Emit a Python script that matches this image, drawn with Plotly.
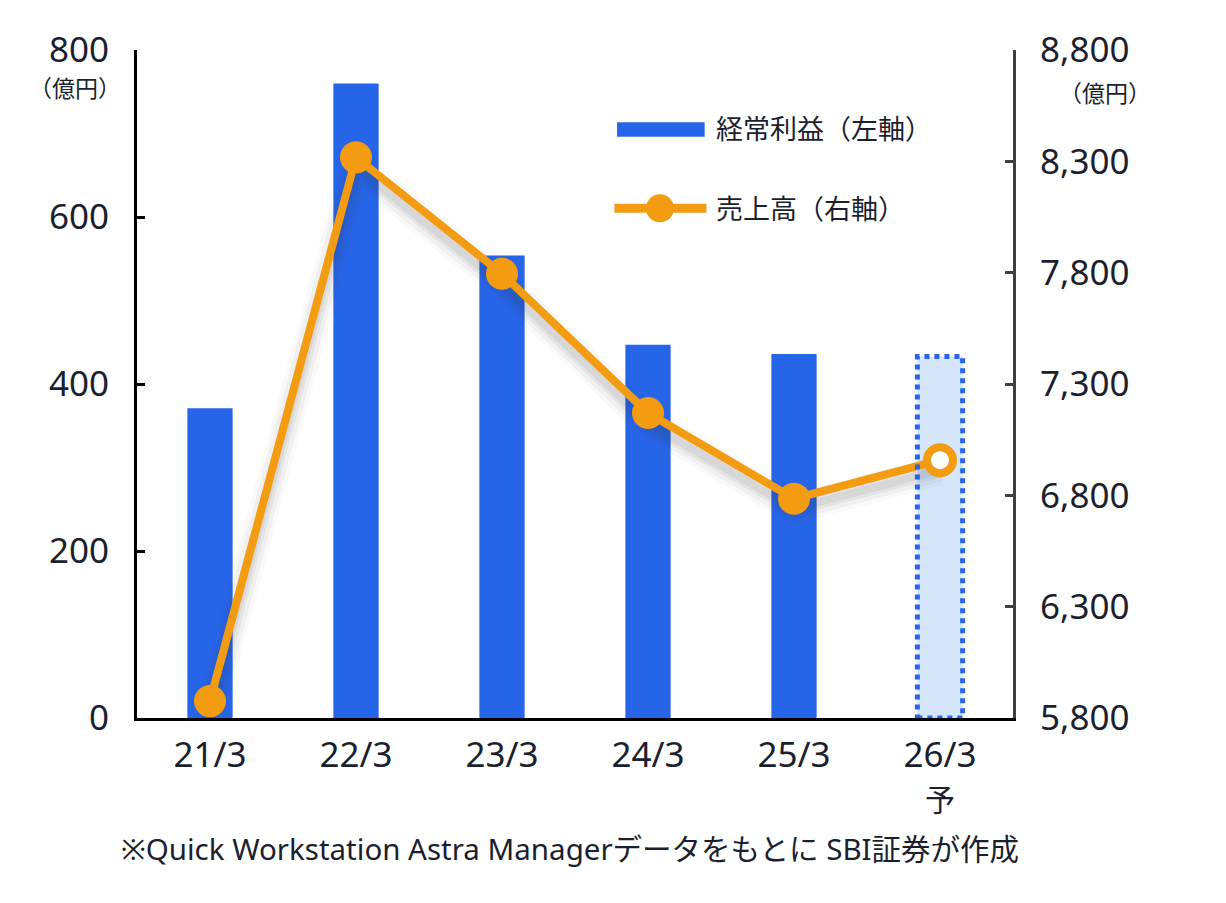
import plotly.graph_objects as go

# fiscal years (last one is the company forecast)
years = ["21/3", "22/3", "23/3", "24/3", "25/3", "26/3"]
forecast_mark = "予"
profit = [371, 760, 554, 447, 436, 433]          # 経常利益 (億円), left axis
sales = [5876, 8318, 7795, 7170, 6785, 6958]     # 売上高 (億円), right axis

left_ticks = [0, 200, 400, 600, 800]
right_ticks = [5800, 6300, 6800, 7300, 7800, 8300, 8800]

BLUE = "#2765E8"
LIGHT_BLUE = "#D5E6FA"
ORANGE = "#F39C12"
TEXT = "#1B1F2E"
FONT = "Noto Sans, Noto Sans CJK JP"

fig = go.Figure()

# actual results bars
fig.add_trace(go.Bar(
    x=years[:-1], y=profit[:-1],
    marker=dict(color=BLUE, line=dict(width=0)),
    width=0.31,
    name="経常利益（左軸）",
))

# forecast bar (light fill, dotted outline added as a shape below)
fig.add_trace(go.Bar(
    x=years[-1:], y=profit[-1:],
    marker=dict(color=LIGHT_BLUE, line=dict(width=0)),
    width=0.31,
))

# soft shadow under the sales line (same data, hidden axis nudged a few pixels)
for w, a in [(30, 0.03), (22, 0.045), (14, 0.06), (8, 0.07)]:
    fig.add_trace(go.Scatter(
        x=years, y=sales, yaxis="y2",
        mode="lines",
        line=dict(color=f"rgba(50,50,50,{a})", width=w),
        hoverinfo="skip",
    ))

# sales line on right axis
fig.add_trace(go.Scatter(
    x=years, y=sales, yaxis="y3",
    mode="lines+markers",
    line=dict(color=ORANGE, width=8),
    marker=dict(
        size=[32] * (len(years) - 1) + [26],
        color=[ORANGE] * (len(years) - 1) + ["white"],
        opacity=1,
        line=dict(color=ORANGE, width=[0] * (len(years) - 1) + [8]),
    ),
    name="売上高（右軸）",
))

# dotted outline of the forecast bar
fig.add_shape(
    type="rect", xref="x", yref="y",
    x0=years[-1], x1=years[-1], x0shift=-0.155, x1shift=0.155,
    y0=0, y1=profit[-1],
    line=dict(color=BLUE, width=5, dash="dot"),
    layer="above",
)

# hand-made legend
fig.add_shape(type="rect", xref="paper", yref="paper",
              x0=0.548, x1=0.648, y0=0.870, y1=0.892,
              fillcolor=BLUE, line=dict(width=0))
fig.add_shape(type="line", xref="paper", yref="paper",
              x0=0.545, x1=0.650, y0=0.763, y1=0.763,
              line=dict(color=ORANGE, width=9))
fig.add_shape(type="circle", xref="paper", yref="paper",
              xsizemode="pixel", ysizemode="pixel",
              xanchor=0.597, yanchor=0.763,
              x0=-14, x1=14, y0=-14, y1=14,
              fillcolor=ORANGE, line=dict(width=0))

annotations = [
    dict(text="経常利益（左軸）", x=0.659, y=0.882, xanchor="left", yanchor="middle",
         font=dict(size=27)),
    dict(text="売上高（右軸）", x=0.659, y=0.763, xanchor="left", yanchor="middle",
         font=dict(size=27)),
    dict(text="（億円）", x=-0.071, y=0.943, xanchor="center", yanchor="middle",
         font=dict(size=23)),
    dict(text="（億円）", x=1.105, y=0.936, xanchor="center", yanchor="middle",
         font=dict(size=23)),
    dict(text="※Quick Workstation Astra Managerデータをもとに SBI証券が作成",
         x=0.494, y=-0.195, xanchor="center", yanchor="middle",
         font=dict(size=29.5)),
]
for a in annotations:
    a.update(xref="paper", yref="paper", showarrow=False)
    a["font"].update(color=TEXT, family=FONT)

# "予" under the forecast year label
annotations.append(dict(
    text=forecast_mark, xref="x", yref="paper", x=years[-1], y=-0.088,
    xanchor="center", yanchor="top", showarrow=False,
    font=dict(size=30, color=TEXT, family=FONT),
))

# page body has an 8px margin, so the figure sits 8px right/down in the window
fig.update_layout(
    width=1226, height=903,
    margin=dict(l=129, r=221, t=42, b=193),
    paper_bgcolor="white", plot_bgcolor="white",
    font=dict(family=FONT, color=TEXT, size=35),
    bargap=0.69,
    showlegend=False,
    annotations=annotations,
    xaxis=dict(
        tickmode="array", tickvals=years,
        showline=True, linecolor="black", linewidth=3,
        ticks="", showgrid=False,
        ticklabelstandoff=4,
    ),
    yaxis=dict(
        range=[0, 800], tickvals=left_ticks,
        showline=True, linecolor="black", linewidth=3,
        ticks="inside", ticklen=8, tickwidth=3, tickcolor="black",
        showgrid=False, zeroline=False,
        ticklabelstandoff=18,
    ),
    yaxis2=dict(
        range=[5800 + 45, 8800 + 45], overlaying="y",
        visible=False, showgrid=False, zeroline=False,
    ),
    yaxis3=dict(
        range=[5800, 8800], tickvals=right_ticks, tickformat=",d",
        overlaying="y", side="right",
        showline=True, linecolor="#404040", linewidth=3,
        ticks="inside", ticklen=8, tickwidth=3, tickcolor="#404040",
        showgrid=False, zeroline=False,
        ticklabelstandoff=17,
    ),
)

fig.write_html("out.html")
